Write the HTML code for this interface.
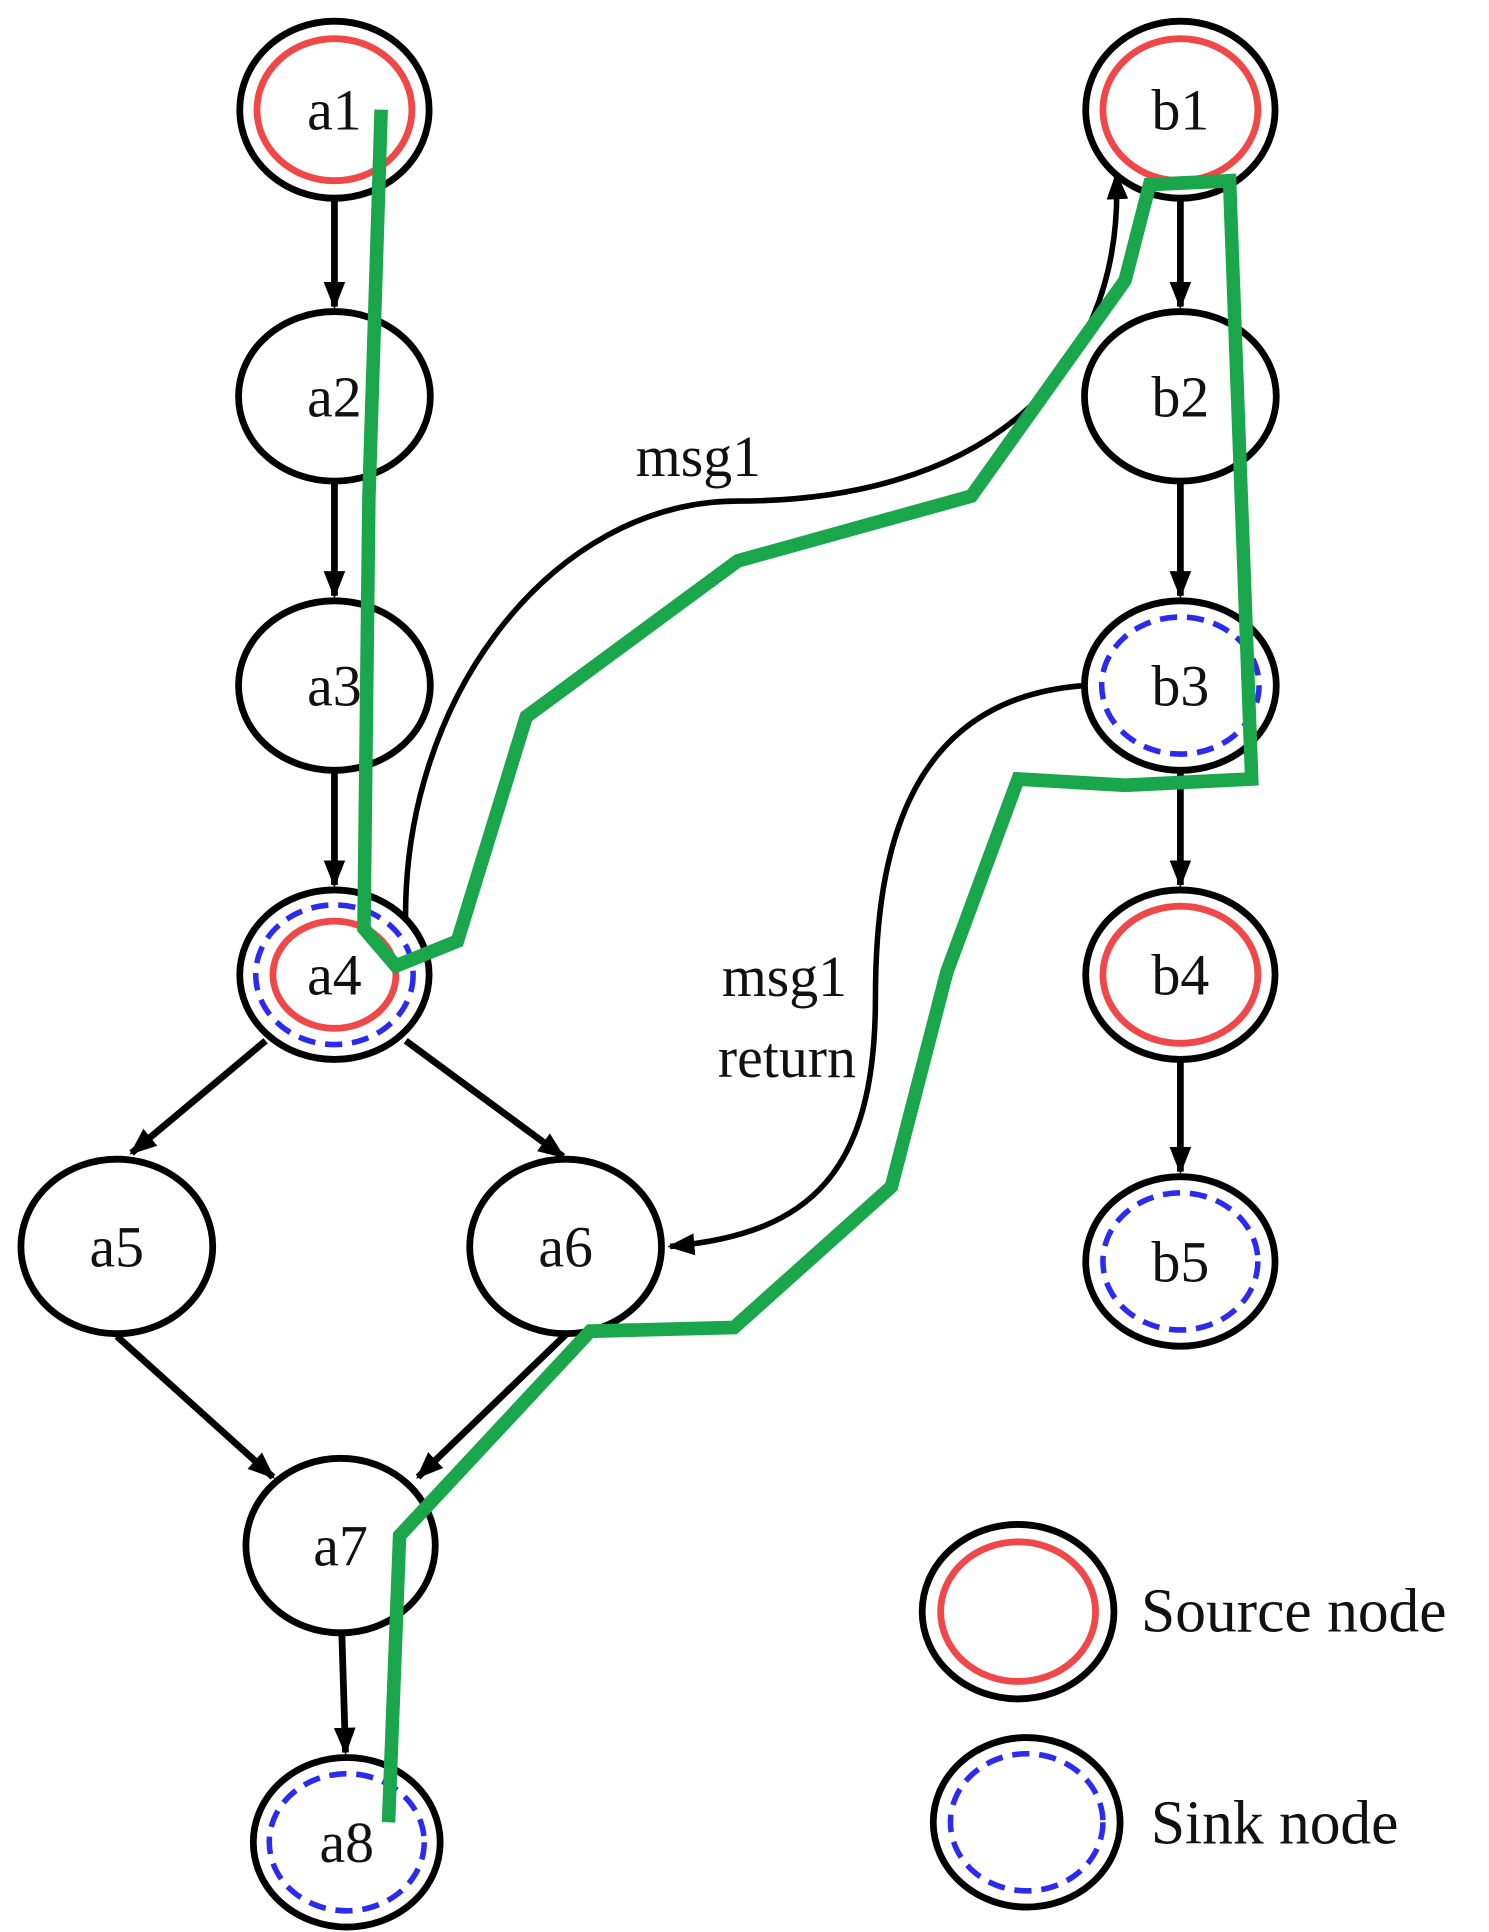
<!DOCTYPE html>
<html><head><meta charset="utf-8"><style>
html,body{margin:0;padding:0;background:#fff;}
svg{display:block;}
text{font-family:"Liberation Serif",serif;font-size:47px;fill:#111;}
</style></head><body>
<svg width="1489" height="1932" viewBox="0 0 1211 1550" preserveAspectRatio="none" xmlns="http://www.w3.org/2000/svg">
<defs>
<marker id="arr" viewBox="0 0 10 10" refX="9" refY="5" markerWidth="22" markerHeight="22" markerUnits="userSpaceOnUse" orient="auto">
<path d="M0,1 L10,5 L0,9 Z" fill="#000"/>
</marker>
</defs>
<g fill="none" stroke="#000" stroke-width="5.5" marker-end="url(#arr)">
<line x1="272" y1="160" x2="272" y2="246"/>
<line x1="272" y1="388" x2="272" y2="478"/>
<line x1="272" y1="620" x2="272" y2="710"/>
<line x1="216" y1="835" x2="107" y2="925"/>
<line x1="330" y1="835" x2="458" y2="928"/>
<line x1="95" y1="1072" x2="222" y2="1185"/>
<line x1="465" y1="1066" x2="340" y2="1185"/>
<line x1="278" y1="1310" x2="281" y2="1406"/>
<line x1="960" y1="158" x2="960" y2="246"/>
<line x1="960" y1="388" x2="960" y2="478"/>
<line x1="960" y1="620" x2="960" y2="710"/>
<line x1="960" y1="852" x2="960" y2="940"/>
</g>
<g fill="none" stroke="#000" stroke-width="4.5" marker-end="url(#arr)">
<path d="M330,745 C325,560 450,402 600,402 C790,402 915,310 908,140"/>
<path d="M882,550 C740,560 712,680 712,800 C712,940 660,990 545,1000"/>
</g>
<g fill="#fff" stroke="#000" stroke-width="5.5">
<ellipse cx="272" cy="88" rx="77" ry="71"/>
<ellipse cx="272" cy="318" rx="78" ry="68"/>
<ellipse cx="272" cy="550" rx="78" ry="68"/>
<ellipse cx="272" cy="782" rx="77" ry="68"/>
<ellipse cx="95" cy="1000" rx="78" ry="70"/>
<ellipse cx="460" cy="1000" rx="78" ry="70"/>
<ellipse cx="277" cy="1240" rx="77" ry="70"/>
<ellipse cx="282" cy="1478" rx="76" ry="68"/>
<ellipse cx="960" cy="88" rx="77" ry="71"/>
<ellipse cx="960" cy="318" rx="78" ry="68"/>
<ellipse cx="960" cy="550" rx="78" ry="68"/>
<ellipse cx="960" cy="782" rx="77" ry="68"/>
<ellipse cx="960" cy="1012" rx="77" ry="68"/>
<ellipse cx="828" cy="1293" rx="78" ry="70"/>
<ellipse cx="835" cy="1462" rx="76" ry="68"/>
</g>
<g fill="none" stroke="#f04848" stroke-width="5.5">
<ellipse cx="272" cy="88" rx="63" ry="57"/>
<ellipse cx="960" cy="88" rx="63" ry="57"/>
<ellipse cx="960" cy="782" rx="63" ry="55"/>
<ellipse cx="272" cy="782" rx="50" ry="43"/>
<ellipse cx="828" cy="1293" rx="63" ry="56"/>
</g>
<g fill="none" stroke="#2b2bf0" stroke-width="4.5" stroke-dasharray="14,8">
<ellipse cx="272" cy="782" rx="64" ry="56"/>
<ellipse cx="282" cy="1478" rx="63" ry="55"/>
<ellipse cx="960" cy="550" rx="64" ry="55"/>
<ellipse cx="960" cy="1012" rx="63" ry="55"/>
<ellipse cx="835" cy="1462" rx="62" ry="55"/>
</g>
<g text-anchor="middle">
<text x="272" y="104">a1</text>
<text x="272" y="334">a2</text>
<text x="272" y="566">a3</text>
<text x="272" y="798">a4</text>
<text x="95" y="1016">a5</text>
<text x="460" y="1016">a6</text>
<text x="277" y="1256">a7</text>
<text x="282" y="1494">a8</text>
<text x="960" y="104">b1</text>
<text x="960" y="334">b2</text>
<text x="960" y="566">b3</text>
<text x="960" y="798">b4</text>
<text x="960" y="1028">b5</text>
<text x="568" y="382">msg1</text>
<text x="638" y="799">msg1</text>
<text x="640" y="864">return</text>
</g>
<text x="928" y="1309" style="font-size:50px">Source node</text>
<text x="936" y="1479" style="font-size:50px">Sink node</text>
<polyline fill="none" stroke="#1aa64a" stroke-width="11" stroke-linejoin="miter"
points="310,88 300,400 296,745 322,775 372,755 428,575 600,450 790,398 915,225 935,148 1000,145 1018,625 915,630 828,625 770,780 725,952 597,1065 480,1068 325,1232 316,1462"/>
</svg>
</body></html>
